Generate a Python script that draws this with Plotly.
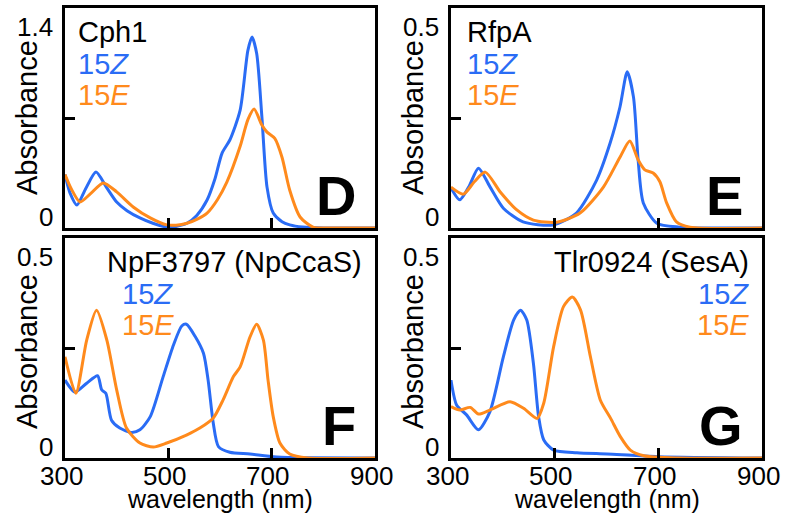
import plotly.graph_objects as go

# ---------------- data ----------------
# Panel D: Cph1
d_z_wl = [300, 310, 323, 340, 360, 380, 400, 420, 445, 470, 497, 515, 536, 555, 575, 590, 604, 619, 639, 654, 662, 671, 681, 691, 703, 720, 735, 760, 800, 900]
d_z_ab = [0.34, 0.22, 0.146, 0.25, 0.356, 0.26, 0.165, 0.11, 0.064, 0.03, 0.006, 0.01, 0.03, 0.08, 0.178, 0.31, 0.477, 0.56, 0.75, 1.13, 1.215, 1.11, 0.71, 0.26, 0.095, 0.04, 0.02, 0.006, 0.0, 0.0]
d_e_wl = [300, 312, 329, 350, 374, 400, 432, 465, 497, 515, 536, 555, 575, 595, 613, 639, 654, 666, 681, 691, 706, 720, 735, 755, 780, 820, 900]
d_e_ab = [0.34, 0.25, 0.166, 0.22, 0.287, 0.23, 0.134, 0.064, 0.02, 0.018, 0.03, 0.055, 0.095, 0.18, 0.29, 0.52, 0.69, 0.757, 0.655, 0.61, 0.57, 0.45, 0.24, 0.07, 0.006, 0.0, 0.0]

# Panel E: RfpA
e_z_wl = [300, 317, 335, 353, 375, 401, 439, 497, 542, 581, 607, 626, 640, 652, 661, 671, 697, 740, 900]
e_z_ab = [0.091, 0.064, 0.095, 0.136, 0.094, 0.045, 0.014, 0.007, 0.034, 0.109, 0.193, 0.275, 0.355, 0.298, 0.155, 0.057, 0.011, 0.002, 0.0]
e_e_wl = [300, 324, 345, 366, 395, 427, 459, 504, 549, 594, 626, 645, 661, 674, 690, 703, 716, 735, 761, 900]
e_e_ab = [0.093, 0.077, 0.105, 0.127, 0.082, 0.041, 0.018, 0.013, 0.034, 0.093, 0.161, 0.198, 0.155, 0.132, 0.125, 0.105, 0.057, 0.014, 0.002, 0.0]

# Panel F: NpF3797 (NpCcaS)
f_z_wl = [300, 319, 342, 363, 371, 379, 390, 406, 429, 445, 465, 490, 510, 526, 535, 552, 568, 577, 587, 597, 619, 658, 710, 900]
f_z_ab = [0.177, 0.15, 0.17, 0.187, 0.155, 0.147, 0.086, 0.068, 0.058, 0.064, 0.094, 0.185, 0.257, 0.3, 0.304, 0.276, 0.238, 0.177, 0.079, 0.026, 0.013, 0.009, 0.002, 0.0]
f_e_wl = [300, 321, 342, 361, 381, 400, 419, 445, 471, 497, 535, 561, 587, 606, 626, 639, 658, 671, 684, 693, 703, 716, 735, 770, 900]
f_e_ab = [0.23, 0.147, 0.268, 0.336, 0.268, 0.155, 0.068, 0.034, 0.025, 0.034, 0.052, 0.068, 0.091, 0.132, 0.185, 0.207, 0.275, 0.304, 0.268, 0.177, 0.094, 0.034, 0.009, 0.0, 0.0]

# Panel G: Tlr0924 (SesA)
g_z_wl = [300, 311, 330, 353, 375, 401, 421, 434, 446, 459, 469, 479, 498, 543, 601, 700, 900]
g_z_ab = [0.177, 0.12, 0.098, 0.064, 0.105, 0.23, 0.314, 0.336, 0.314, 0.215, 0.094, 0.041, 0.018, 0.012, 0.009, 0.003, 0.0]
g_e_wl = [300, 317, 337, 353, 375, 414, 440, 466, 479, 498, 517, 534, 550, 569, 588, 608, 627, 646, 672, 740, 900]
g_e_ab = [0.117, 0.109, 0.115, 0.1, 0.109, 0.128, 0.113, 0.09, 0.125, 0.253, 0.344, 0.366, 0.336, 0.23, 0.132, 0.09, 0.048, 0.018, 0.005, 0.0, 0.0]

panel_names = ["Cph1", "RfpA", "NpF3797 (NpCcaS)", "Tlr0924 (SesA)"]
panel_letters = ["D", "E", "F", "G"]
y_max = [1.4, 0.5, 0.5, 0.5]
y_mid = [0.7, 0.25, 0.25, 0.25]
y_tick_labels = [["0", "1.4"], ["0", "0.5"], ["0", "0.5"], ["0", "0.5"]]
x_ticks = [300, 500, 700, 900]
x_tick_labels = ["300", "500", "700", "900"]
series_names = ["15<i>Z</i>", "15<i>E</i>"]

BLUE = "#2a6cf5"
ORANGE = "#ff8a1c"
FONT = "Liberation Sans, Arial, sans-serif"

W, H = 793, 515
# panel frames in pixels (left, right, top, bottom)
frames = [(65, 375, 8, 228), (451, 762, 8, 228), (65, 375, 238, 458), (451, 762, 238, 458)]

data = [
    (d_z_wl, d_z_ab, d_e_wl, d_e_ab),
    (e_z_wl, e_z_ab, e_e_wl, e_e_ab),
    (f_z_wl, f_z_ab, f_e_wl, f_e_ab),
    (g_z_wl, g_z_ab, g_e_wl, g_e_ab),
]

fig = go.Figure()
annotations = []
layout = {}
for i, (fr, dd) in enumerate(zip(frames, data)):
    n = "" if i == 0 else str(i + 1)
    xa, ya = "x" + n, "y" + n
    zx, zy, ex, ey = dd
    fig.add_trace(go.Scatter(x=zx, y=zy, mode="lines", line=dict(color=BLUE, width=3, shape="spline", smoothing=0.7),
                             xaxis=xa, yaxis=ya, showlegend=False, hoverinfo="skip"))
    fig.add_trace(go.Scatter(x=ex, y=ey, mode="lines", line=dict(color=ORANGE, width=3, shape="spline", smoothing=0.7),
                             xaxis=xa, yaxis=ya, showlegend=False, hoverinfo="skip"))
    l, r, t, b = fr
    bottom_row = i >= 2
    layout["xaxis" + n] = dict(
        domain=[l / W, r / W], range=[300, 900], anchor=ya, automargin=False,
        showline=True, mirror=True, linecolor="black", linewidth=3,
        showgrid=False, zeroline=False,
        tickmode="array", tickvals=x_ticks, ticktext=[""] * 4, showticklabels=False,
        ticks="inside", ticklen=10, tickwidth=3, tickcolor="black",
    )
    layout["yaxis" + n] = dict(
        domain=[1 - b / H, 1 - t / H], range=[0, y_max[i]], anchor=xa, automargin=False,
        showline=True, mirror=True, linecolor="black", linewidth=3,
        showgrid=False, zeroline=False,
        tickmode="array", tickvals=[y_mid[i]], ticktext=[""],
        ticks="inside", ticklen=10, tickwidth=3, tickcolor="black",
    )
    xd, yd = xa + " domain", ya + " domain"
    # y tick labels (placed inside the frame edges as in the reference)
    annotations.append(dict(text=y_tick_labels[i][0], x=0, y=0, xref=xd, yref=ya, xanchor="right", yanchor="bottom",
                            xshift=-10, yshift=-6, showarrow=False, font=dict(family=FONT, size=26, color="black")))
    annotations.append(dict(text=y_tick_labels[i][1], x=0, y=y_max[i], xref=xd, yref=ya, xanchor="right", yanchor="top",
                            xshift=-10, yshift=-2, showarrow=False, font=dict(family=FONT, size=26, color="black")))
    # y axis title
    annotations.append(dict(text="Absorbance", x=0, y=0.5, xref=xd, yref=yd, xanchor="center", yanchor="middle",
                            xshift=-38, yshift=-4 if bottom_row else 0, textangle=-90, showarrow=False,
                            font=dict(family=FONT, size=29, color="black")))
    if bottom_row:
        for tv, tt in zip(x_ticks, x_tick_labels):
            annotations.append(dict(text=tt, x=tv, y=0, xref=xa, yref=yd, xanchor="center", yanchor="top",
                                    xshift=-4, yshift=-1, showarrow=False,
                                    font=dict(family=FONT, size=26, color="black")))
        annotations.append(dict(text="wavelength (nm)", x=0.5, y=0, xref=xd, yref=yd, xanchor="center", yanchor="top",
                                yshift=-25, showarrow=False, font=dict(family=FONT, size=25, color="black")))
    # panel title and series labels
    right_aligned = i >= 2
    xpos = 1 if right_aligned else 0
    xanc = "right" if right_aligned else "left"
    xsh = -11 if right_aligned else (11 if i == 0 else 14)
    annotations.append(dict(text=panel_names[i], x=xpos, y=1, xref=xd, yref=yd, xanchor=xanc, yanchor="top",
                            xshift=xsh, yshift=-6, showarrow=False, font=dict(family=FONT, size=29, color="black")))
    s_x = 1 if i == 3 else 0
    s_anc = "right" if i == 3 else "left"
    s_sh = -11 if i == 3 else (11 if i == 0 else (14 if i == 1 else 55))
    annotations.append(dict(text=series_names[0], x=s_x, y=1, xref=xd, yref=yd, xanchor=s_anc, yanchor="top",
                            xshift=s_sh, yshift=-38, showarrow=False, font=dict(family=FONT, size=29, color=BLUE)))
    annotations.append(dict(text=series_names[1], x=s_x, y=1, xref=xd, yref=yd, xanchor=s_anc, yanchor="top",
                            xshift=s_sh, yshift=-69, showarrow=False, font=dict(family=FONT, size=29, color=ORANGE)))
    # big panel letter
    annotations.append(dict(text="<b>" + panel_letters[i] + "</b>", x=1, y=0, xref=xd, yref=yd, xanchor="right",
                            yanchor="bottom", xshift=-17, yshift=-1, showarrow=False,
                            font=dict(family=FONT, size=56, color="black")))

fig.update_layout(
    width=W, height=H, margin=dict(l=0, r=0, t=0, b=0),
    paper_bgcolor="white", plot_bgcolor="white",
    annotations=annotations, **layout,
)
fig.write_html("out.html", config={"displayModeBar": False},
               post_script="document.body.style.margin='0';document.body.style.overflow='hidden';")
